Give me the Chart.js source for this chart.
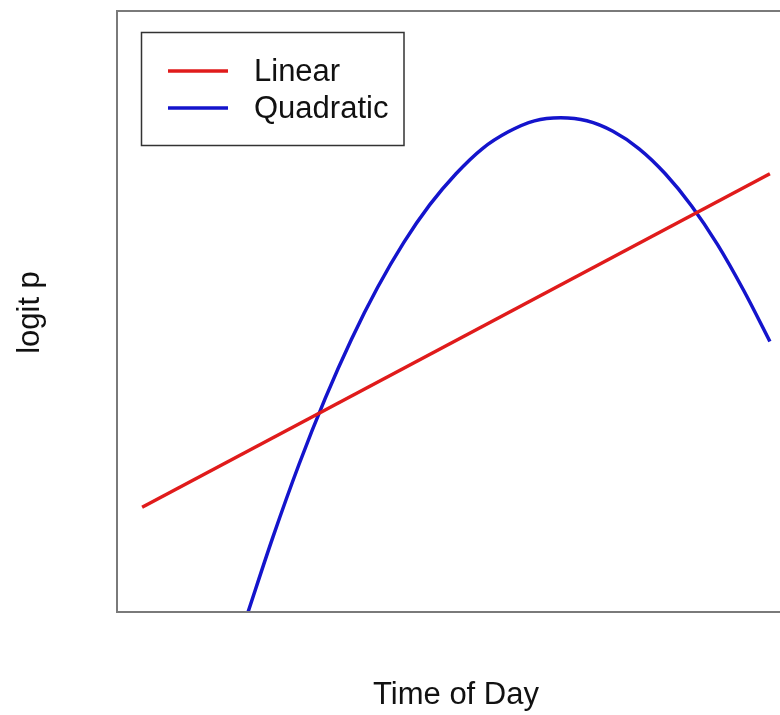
<!DOCTYPE html>
<html>
<head>
<meta charset="utf-8">
<script src="https://cdn.jsdelivr.net/npm/chart.js@4/dist/chart.umd.min.js"></script>
<style>
  html, body { margin: 0; padding: 0; background: #fff; overflow: hidden; width: 780px; height: 715px; }
  #wrap { position: relative; width: 800px; height: 715px; }
</style>
</head>
<body>
<div id="wrap"><canvas id="c" width="800" height="715"></canvas></div>
<script>
// Time of day (hours) and fitted logit p for each model
const hoursLinear = [6, 18];
const logitLinear = [-1.95, 1.39];

const hoursQuad = [8.0, 8.5, 9.0, 9.5, 10.0, 10.5, 11.0, 11.5, 12.0, 12.5, 13.0, 13.5, 14.0,
                   14.5, 15.0, 15.5, 16.0, 16.5, 17.0, 17.5, 18.0];
const logitQuad = [-3.04, -2.25, -1.52, -0.86, -0.27, 0.25, 0.70, 1.08, 1.39, 1.64, 1.81, 1.92, 1.95,
                   1.92, 1.815, 1.64, 1.39, 1.07, 0.68, 0.22, -0.29];

const seriesNames = ['Linear', 'Quadratic'];
const seriesColors = ['#e01b1b', '#1414cc'];
const xTitle = 'Time of Day';
const yTitle = 'logit p';

const xRange = [5.52, 18.48];
const yRange = [-3.0, 3.02];

const FONT = '"Liberation Sans", Arial, Helvetica, sans-serif';

const toPoints = (xs, ys) => xs.map((x, i) => ({ x, y: ys[i] }));

// Frame, axis titles and legend box drawn around the plot area
const frame = {
  id: 'frame',
  afterDraw(chart) {
    const { ctx, chartArea: a } = chart;
    ctx.save();
    ctx.strokeStyle = '#7a7a7a';
    ctx.lineWidth = 2;
    ctx.strokeRect(a.left, a.top, a.right - a.left, a.bottom - a.top);

    ctx.fillStyle = '#111';
    ctx.font = '31px ' + FONT;
    ctx.textAlign = 'center';
    ctx.textBaseline = 'middle';
    ctx.fillText(xTitle, (a.left + a.right) / 2, 695);
    ctx.save();
    ctx.translate(30, (a.top + a.bottom) / 2 + 1);
    ctx.rotate(-Math.PI / 2);
    ctx.fillText(yTitle, 0, 0);
    ctx.restore();

    // legend
    const bx = 141.5, by = 32.5, bw = 262.5, bh = 113;
    ctx.fillStyle = '#fff';
    ctx.fillRect(bx, by, bw, bh);
    ctx.strokeStyle = '#333';
    ctx.lineWidth = 1.5;
    ctx.strokeRect(bx, by, bw, bh);
    const rows = [71, 108];
    ctx.textAlign = 'left';
    ctx.font = '31px ' + FONT;
    chart.data.datasets.forEach((ds, i) => {
      ctx.strokeStyle = ds.borderColor;
      ctx.lineWidth = 3.5;
      ctx.beginPath();
      ctx.moveTo(168, rows[i]);
      ctx.lineTo(228, rows[i]);
      ctx.stroke();
      ctx.fillStyle = '#111';
      ctx.fillText(ds.label, 254, rows[i] + 1);
    });
    ctx.restore();
  }
};

new Chart(document.getElementById('c'), {
  type: 'scatter',
  data: {
    datasets: [
      {
        label: seriesNames[0],
        data: toPoints(hoursLinear, logitLinear),
        showLine: true,
        borderColor: seriesColors[0],
        borderWidth: 3.5,
        pointRadius: 0,
        tension: 0
      },
      {
        label: seriesNames[1],
        data: toPoints(hoursQuad, logitQuad),
        showLine: true,
        borderColor: seriesColors[1],
        borderWidth: 3.5,
        pointRadius: 0,
        cubicInterpolationMode: 'monotone'
      }
    ]
  },
  options: {
    responsive: false,
    animation: false,
    layout: { padding: { left: 117, top: 11, right: 5, bottom: 103 } },
    scales: {
      x: { type: 'linear', min: xRange[0], max: xRange[1], display: false },
      y: { type: 'linear', min: yRange[0], max: yRange[1], display: false }
    },
    plugins: {
      legend: { display: false },
      tooltip: { enabled: false }
    }
  },
  plugins: [frame]
});
</script>
</body>
</html>
